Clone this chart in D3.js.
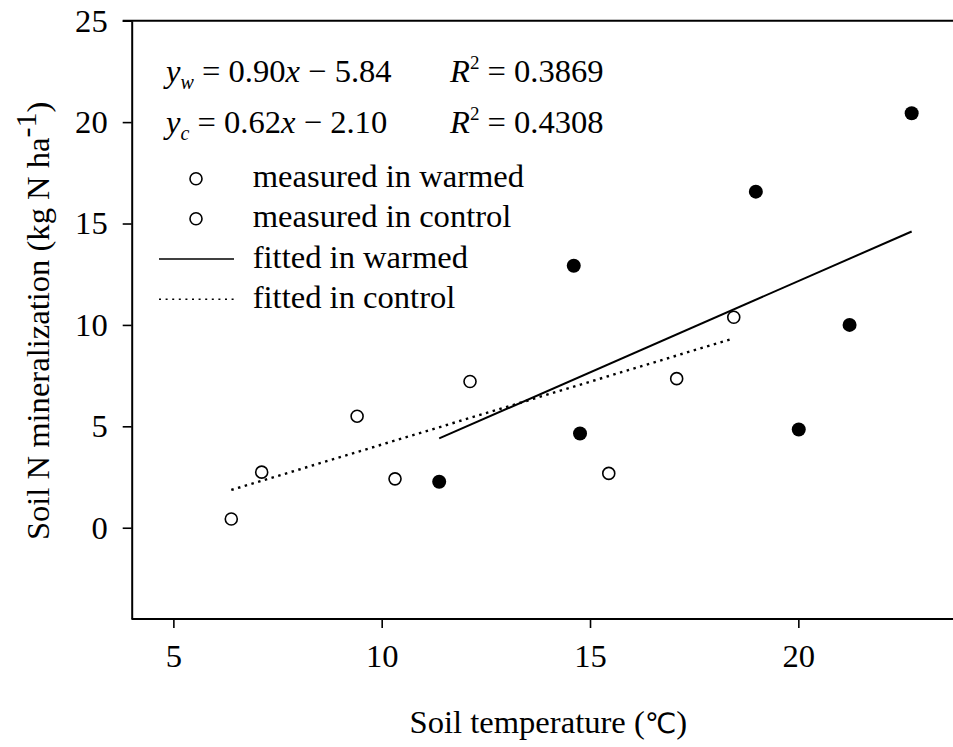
<!DOCTYPE html>
<html>
<head>
<meta charset="utf-8">
<script src="https://cdn.jsdelivr.net/npm/d3@7"></script>
<style>
  html, body { margin: 0; padding: 0; background: #fff; }
  svg { display: block; }
  svg text { font-family: 'Liberation Serif'; fill: #000; }
</style>
</head>
<body>
<svg id="chart" width="953" height="747"></svg>
<script>
// Soil temperature (°C) and net N mineralization (kg N/ha)
const warmedTemp = [11.38, 14.61, 14.76, 18.98, 20.01, 21.23, 22.72];
const warmedN    = [2.27, 12.92, 4.65, 16.57, 4.84, 10.00, 20.44];
const controlTemp = [6.39, 7.12, 9.41, 10.32, 12.12, 15.45, 17.08, 18.45];
const controlN    = [0.43, 2.74, 5.50, 2.41, 7.21, 2.68, 7.35, 10.38];

// Linear fits: slope, intercept, R²
const fitWarmed  = { slope: 0.90, intercept: -5.84, r2: 0.3869, sub: "w" };
const fitControl = { slope: 0.62, intercept: -2.10, r2: 0.4308, sub: "c" };

const xTicks = [5, 10, 15, 20];
const yTicks = [0, 5, 10, 15, 20, 25];
const legendLabels = ["measured in warmed", "measured in control", "fitted in warmed", "fitted in control"];

const SERIF = "'Liberation Serif'";
const FS = "32.6px";
const svg = d3.select("#chart");
const plotLeft = 131.7, plotRight = 965, plotTop = 20.7, plotBottom = 619;

const x = d3.scaleLinear().domain([4, 24]).range([plotLeft, plotRight]);
const y = d3.scaleLinear().domain([-4.5, 25]).range([plotBottom, plotTop]);

// Axes
const xAxis = svg.append("g").attr("transform", `translate(0,${plotBottom})`)
  .call(d3.axisBottom(x).tickValues(xTicks).tickSize(9).tickPadding(16).tickSizeOuter(0));
const yAxis = svg.append("g").attr("transform", `translate(${plotLeft},0)`)
  .call(d3.axisLeft(y).tickValues(yTicks).tickSize(9).tickPadding(15).tickSizeOuter(0));
[xAxis, yAxis].forEach(g => {
  g.attr("font-family", null).attr("font-size", null);
  g.select(".domain").attr("stroke", "#000").attr("stroke-width", 2);
  g.selectAll(".tick line").attr("stroke", "#000").attr("stroke-width", 1.6);
  g.selectAll(".tick text").style("font-family", SERIF)
    .style("font-size", FS).attr("fill", "#000");
});
xAxis.select(".domain").attr("d", `M${plotLeft},0H${plotRight}`);

// Top frame line
svg.append("line")
  .attr("x1", x(4) - 9).attr("x2", plotRight)
  .attr("y1", y(25)).attr("y2", y(25))
  .attr("stroke", "#000").attr("stroke-width", 2);

// Fitted lines over each observed temperature range
function fitLine(fit, temps, dash) {
  const [a, b] = d3.extent(temps);
  svg.append("line")
    .attr("x1", x(a)).attr("y1", y(fit.slope * a + fit.intercept))
    .attr("x2", x(b)).attr("y2", y(fit.slope * b + fit.intercept))
    .attr("stroke", "#000").attr("stroke-width", dash ? 2.4 : 2)
    .attr("stroke-dasharray", dash || null);
}
fitLine(fitWarmed, warmedTemp, null);
fitLine(fitControl, controlTemp, "2.5,4.5");

// Measured points
svg.append("g").selectAll("circle")
  .data(d3.zip(controlTemp, controlN)).join("circle")
  .attr("cx", d => x(d[0])).attr("cy", d => y(d[1])).attr("r", 6)
  .attr("fill", "#fff").attr("stroke", "#000").attr("stroke-width", 1.6);
svg.append("g").selectAll("circle")
  .data(d3.zip(warmedTemp, warmedN)).join("circle")
  .attr("cx", d => x(d[0])).attr("cy", d => y(d[1])).attr("r", 7)
  .attr("fill", "#000");

function txt(sel) { return sel.style("font-family", SERIF).style("font-size", FS); }

// Regression equations
function equation(fit, baseY) {
  const t = txt(svg.append("text").attr("y", baseY));
  t.append("tspan").attr("x", 166).style("font-style", "italic").text("y");
  t.append("tspan").style("font-style", "italic").style("font-size", "20px").attr("dy", 7).text(fit.sub);
  t.append("tspan").attr("dy", -7).text(" = " + fit.slope.toFixed(2));
  t.append("tspan").style("font-style", "italic").text("x");
  t.append("tspan").text(" \u2212 " + Math.abs(fit.intercept).toFixed(2));
  const r = txt(svg.append("text").attr("y", baseY));
  r.append("tspan").attr("x", 450).style("font-style", "italic").text("R");
  r.append("tspan").style("font-size", "19px").attr("dy", -13).text("2");
  r.append("tspan").attr("dy", 13).text(" = " + fit.r2.toFixed(4));
}
equation(fitWarmed, 82);
equation(fitControl, 133);

// Legend
const legendY = [178.7, 218.7, 259, 299.3];
const lg = svg.append("g");
txt(lg.selectAll("text").data(legendLabels).join("text")
  .attr("x", 252.7).attr("y", (d, i) => legendY[i] + 8.5))
  .text(d => d);
[0, 1].forEach(i => lg.append("circle")
  .attr("cx", 196).attr("cy", legendY[i]).attr("r", 6)
  .attr("fill", "#fff").attr("stroke", "#000").attr("stroke-width", 1.6));
lg.append("line").attr("x1", 159).attr("x2", 234).attr("y1", legendY[2]).attr("y2", legendY[2])
  .attr("stroke", "#000").attr("stroke-width", 1.6);
lg.append("line").attr("x1", 159).attr("x2", 234).attr("y1", legendY[3]).attr("y2", legendY[3])
  .attr("stroke", "#000").attr("stroke-width", 1.4).attr("stroke-dasharray", "2,4.6");

// Axis titles
const xt = txt(svg.append("text").attr("x", (plotLeft + plotRight) / 2).attr("y", 733)
  .attr("text-anchor", "middle"));
xt.append("tspan").text("Soil temperature (");
xt.append("tspan").style("font-family", "'DejaVu Sans'").style("font-size", "28px").text("\u2103");
xt.append("tspan").text(")");

const yt = txt(svg.append("text")
  .attr("transform", `translate(49,${y(10.2)}) rotate(-90)`)
  .attr("text-anchor", "middle"));
yt.append("tspan").text("Soil N mineralization (kg N ha");
yt.append("tspan").attr("dy", -13).style("font-size", "30px").text("-1");
yt.append("tspan").attr("dy", 13).text(")");
</script>
</body>
</html>
